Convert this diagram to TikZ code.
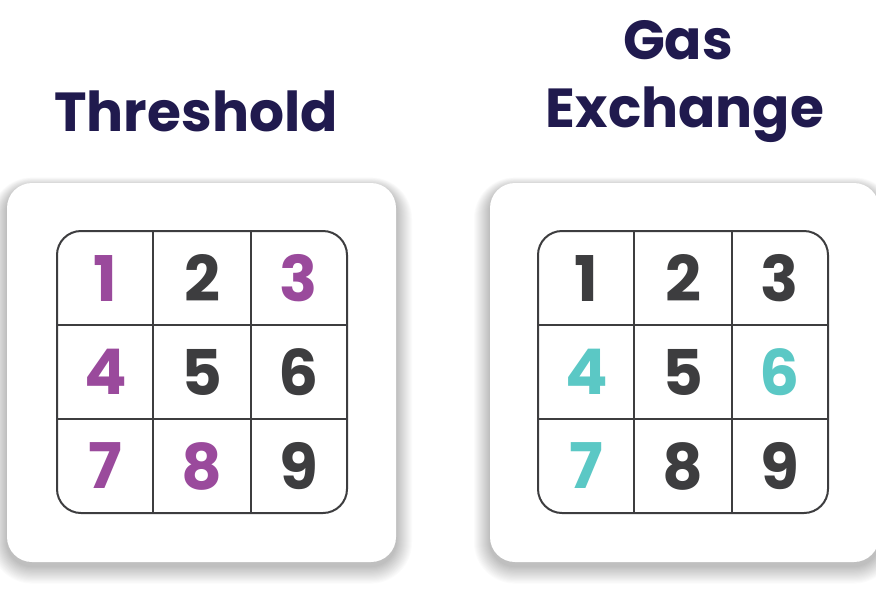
\documentclass[tikz,border=0pt]{standalone}
\usepackage{fontspec}
\setmainfont{Poppins}
\usetikzlibrary{calc}
\definecolor{navy}{HTML}{201A4E}
\definecolor{ink}{HTML}{3D3D3F}
\definecolor{plum}{HTML}{9A4A9C}
\definecolor{teal}{HTML}{5BC8C5}
\tikzset{
  card/.style={fill=white, rounded corners=25pt, draw=none,
    minimum width=389pt, minimum height=379pt, inner sep=0pt},
  gridbox/.style={draw=ink, line width=2pt, rounded corners=24pt,
    minimum width=290pt, minimum height=282pt, inner sep=0pt},
  gridline/.style={draw=ink, line width=2pt},
  digit/.style={font=\fontsize{63}{63}\selectfont\bfseries, inner sep=0pt, text=ink},
  title/.style={font=\fontsize{55}{55}\selectfont\bfseries, text=navy, anchor=base, inner sep=0pt},
  shadowlayer/.style={fill=black, fill opacity=0.014, draw=none}
}
\begin{document}
\begin{tikzpicture}[x=1pt,y=-1pt]
\useasboundingbox (0,0) rectangle (876,590);
\fill[white] (0,0) rectangle (876,590);
% titles
\node[title] (tL) at (196,131) {Threshold};
\node[title] (tR1) at (678,59) {Gas};
\node[title] (tR2) at (685,127) {Exchange};
% soft shadows
\foreach \cx in {201.5,684.5}{
  \foreach \k in {1,...,16}{
    \fill[shadowlayer, rounded corners={25pt+\k pt}]
      (\cx-194.5-\k, 183-\k*0.6+4) rectangle (\cx+194.5+\k, 562+\k*1.1+4);
  }
}
% cards
\node[card] (cardL) at (201.5,372.5) {};
\node[card] (cardR) at (684.5,372.5) {};
% grids
\foreach \g/\cx in {gL/202, gR/683}{
  \node[gridbox] (\g) at (\cx,372) {};
  \draw[gridline] ($(\g.north west)!1/3!(\g.north east)$) -- ($(\g.south west)!1/3!(\g.south east)$);
  \draw[gridline] ($(\g.north west)!2/3!(\g.north east)$) -- ($(\g.south west)!2/3!(\g.south east)$);
  \draw[gridline] ($(\g.north west)!1/3!(\g.south west)$) -- ($(\g.north east)!1/3!(\g.south east)$);
  \draw[gridline] ($(\g.north west)!2/3!(\g.south west)$) -- ($(\g.north east)!2/3!(\g.south east)$);
}
% left digits
\foreach \n/\c/\r/\col in {1/0/0/plum,2/1/0/ink,3/2/0/plum,4/0/1/plum,5/1/1/ink,6/2/1/ink,7/0/2/plum,8/1/2/plum,9/2/2/ink}{
  \node[digit, text=\col] (dL\n) at (57+48.33+96.67*\c, 231+47+94*\r) {\n};
}
% right digits
\foreach \n/\c/\r/\col in {1/0/0/ink,2/1/0/ink,3/2/0/ink,4/0/1/teal,5/1/1/ink,6/2/1/teal,7/0/2/teal,8/1/2/ink,9/2/2/ink}{
  \node[digit, text=\col] (dR\n) at (538+48.33+96.67*\c, 231+47+94*\r) {\n};
}
\end{tikzpicture}
\end{document}
